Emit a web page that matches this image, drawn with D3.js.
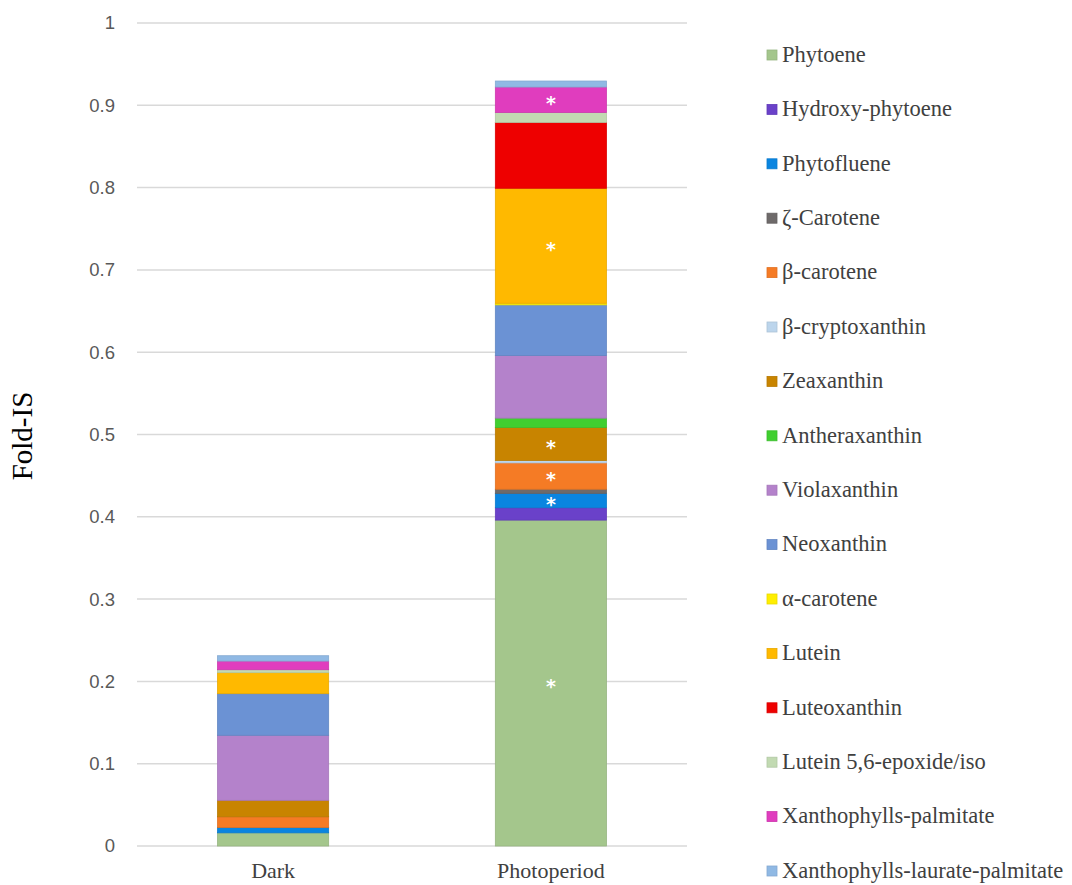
<!DOCTYPE html>
<html>
<head>
<meta charset="utf-8">
<script src="https://cdn.jsdelivr.net/npm/d3@7"></script>
<style>
  html, body { margin: 0; padding: 0; background: #fff; }
  svg { display: block; }
</style>
</head>
<body>
<svg id="chart" width="1072" height="885"></svg>
<script>
// Conditions on the x axis
const conditions = ["Dark", "Photoperiod"];

// Carotenoid series, stacked bottom to top
const compounds = [
  "Phytoene", "Hydroxy-phytoene", "Phytofluene", "ζ-Carotene", "β-carotene",
  "β-cryptoxanthin", "Zeaxanthin", "Antheraxanthin", "Violaxanthin", "Neoxanthin",
  "α-carotene", "Lutein", "Luteoxanthin", "Lutein 5,6-epoxide/iso",
  "Xanthophylls-palmitate", "Xanthophylls-laurate-palmitate"
];

const colors = [
  "#a4c68c", "#6a41c9", "#0a85e0", "#6e6a6a", "#f57b25",
  "#bcd5ec", "#c88400", "#40cf30", "#b482cb", "#6b92d4",
  "#ffee00", "#ffb900", "#ee0000", "#c2dab2",
  "#e03dbe", "#90b9e4"
];

// Fold-IS values per compound (same order as compounds)
const darkValues = [
  0.016, 0.0, 0.0065, 0.0, 0.013,
  0.0, 0.020, 0.0, 0.079, 0.0506,
  0.0, 0.0255, 0.0, 0.0036,
  0.0105, 0.0065
];
const photoperiodValues = [
  0.396, 0.015, 0.0175, 0.005, 0.032,
  0.003, 0.040, 0.0114, 0.076, 0.0616,
  0.002, 0.1397, 0.080, 0.012,
  0.031, 0.0073
];

// Compounds marked as significant in the photoperiod condition
const significant = ["Phytoene", "Phytofluene", "β-carotene", "Zeaxanthin", "Lutein", "Xanthophylls-palmitate"];

const yTicks = [0, 0.1, 0.2, 0.3, 0.4, 0.5, 0.6, 0.7, 0.8, 0.9, 1];

const svg = d3.select("#chart");
const serif = "'Liberation Serif', 'Times New Roman', serif";
const sans = "'Liberation Sans', Arial, sans-serif";

const x = d3.scaleBand().domain(conditions).range([137, 687])
  .paddingInner(0.6).paddingOuter(0.29);
const y = d3.scaleLinear().domain([0, 1]).range([846, 23]);

// Table of rows for d3.stack
const rows = conditions.map((c, i) => {
  const vals = i === 0 ? darkValues : photoperiodValues;
  const r = { condition: c };
  compounds.forEach((k, j) => r[k] = vals[j]);
  return r;
});
const stacked = d3.stack().keys(compounds)(rows);
const color = d3.scaleOrdinal().domain(compounds).range(colors);

// Gridlines
svg.append("g")
  .selectAll("line")
  .data(yTicks)
  .join("line")
  .attr("x1", 137).attr("x2", 687)
  .attr("y1", d => y(d)).attr("y2", d => y(d))
  .attr("stroke", "#d9d9d9").attr("stroke-width", 1.5);

// Y axis tick labels
const yAxis = d3.axisLeft(y).tickValues(yTicks).tickSize(0).tickPadding(0)
  .tickFormat(d => d3.format("")(d));
const gy = svg.append("g").attr("transform", "translate(115,0)").call(yAxis);
gy.select(".domain").remove();
gy.selectAll("text")
  .attr("font-family", sans).attr("font-size", 18.5).attr("fill", "#595959");

// Y axis title
svg.append("text")
  .attr("transform", "translate(32,436) rotate(-90)")
  .attr("text-anchor", "middle")
  .attr("font-family", serif).attr("font-size", 29).attr("fill", "#000")
  .text("Fold-IS");

// X axis category labels
const xAxis = d3.axisBottom(x).tickSize(0).tickPadding(0);
const gx = svg.append("g").attr("transform", "translate(0,878)").call(xAxis);
gx.select(".domain").remove();
gx.selectAll("text").attr("dy", 0)
  .attr("font-family", serif).attr("font-size", 22).attr("fill", "#404040");

// Stacked bars
const layers = svg.append("g").selectAll("g")
  .data(stacked)
  .join("g")
  .attr("fill", d => color(d.key))
  .attr("stroke", d => d3.color(color(d.key)).darker(0.25))
  .attr("stroke-width", 0.8);

layers.selectAll("rect")
  .data(d => d.filter(s => s[1] - s[0] > 0))
  .join("rect")
  .attr("x", s => x(s.data.condition))
  .attr("width", x.bandwidth())
  .attr("y", s => y(s[1]))
  .attr("height", s => y(s[0]) - y(s[1]));

// Significance asterisks on the photoperiod bar
const marks = stacked.filter(l => significant.includes(l.key)).map(l => l[1]);
svg.append("g").selectAll("text")
  .data(marks)
  .join("text")
  .attr("x", s => x(s.data.condition) + x.bandwidth() / 2)
  .attr("y", s => (y(s[0]) + y(s[1])) / 2 + 10)
  .attr("text-anchor", "middle")
  .attr("font-family", "'DejaVu Sans', sans-serif")
  .attr("font-weight", "bold")
  .attr("font-size", 19).attr("fill", "#fff")
  .text("*");

// Legend
const legend = svg.append("g").selectAll("g")
  .data(compounds)
  .join("g")
  .attr("transform", (d, i) => `translate(767,${55 + i * 54.4})`);
legend.append("rect")
  .attr("x", 0).attr("y", -5).attr("width", 10).attr("height", 10)
  .attr("fill", d => color(d))
  .attr("stroke", d => d3.color(color(d)).darker(0.25)).attr("stroke-width", 0.8);
legend.append("text")
  .attr("x", 15).attr("y", 0).attr("dy", "0.3em")
  .attr("font-family", serif).attr("font-size", 22.5).attr("fill", "#404040")
  .text(d => d);
</script>
</body>
</html>
